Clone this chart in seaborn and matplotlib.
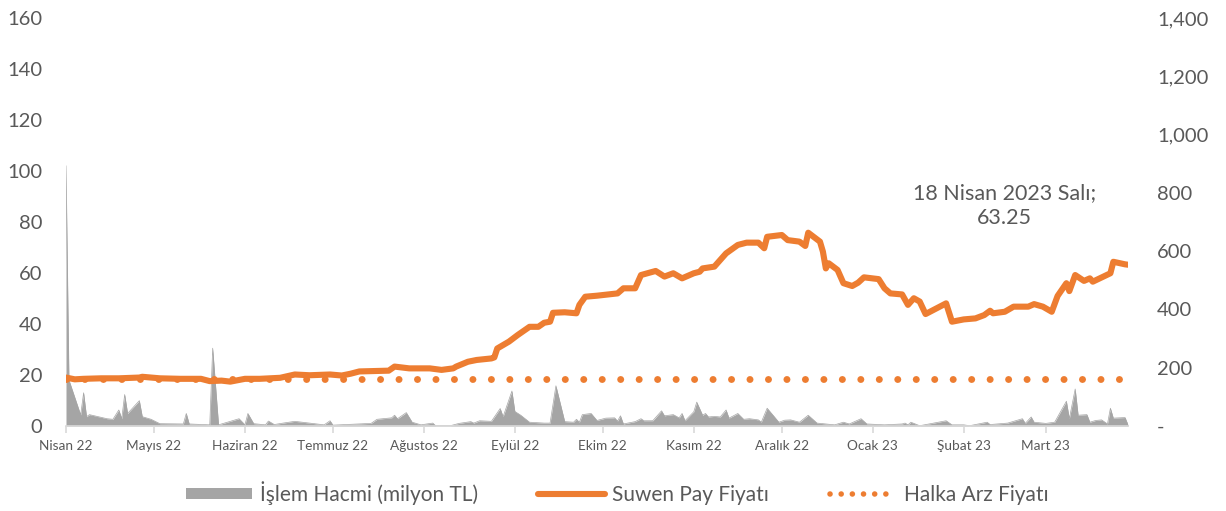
import pandas as pd
import numpy as np
import seaborn as sns
import matplotlib.pyplot as plt
import matplotlib.ticker as mticker
from matplotlib.lines import Line2D
from matplotlib.patches import Patch

# price (TL)
fiyat_tarih = ['2022-04-21', '2022-04-24', '2022-04-27', '2022-05-03', '2022-05-09', '2022-05-16', '2022-05-17',
               '2022-05-23', '2022-05-30', '2022-06-06', '2022-06-09', '2022-06-13', '2022-06-16', '2022-06-21',
               '2022-06-26', '2022-07-03', '2022-07-08', '2022-07-13', '2022-07-20', '2022-07-24', '2022-07-27',
               '2022-07-30', '2022-08-09', '2022-08-11', '2022-08-16', '2022-08-23', '2022-08-27', '2022-08-31',
               '2022-09-01', '2022-09-05', '2022-09-08', '2022-09-13', '2022-09-14', '2022-09-15', '2022-09-19',
               '2022-09-22', '2022-09-26', '2022-09-29', '2022-10-01', '2022-10-03', '2022-10-04', '2022-10-08',
               '2022-10-12', '2022-10-13', '2022-10-15', '2022-10-19', '2022-10-26', '2022-10-28', '2022-11-01',
               '2022-11-03', '2022-11-08', '2022-11-11', '2022-11-14', '2022-11-17', '2022-11-21', '2022-11-23',
               '2022-11-24', '2022-11-28', '2022-12-02', '2022-12-06', '2022-12-09', '2022-12-13', '2022-12-15',
               '2022-12-16', '2022-12-21', '2022-12-23', '2022-12-27', '2022-12-29', '2022-12-30', '2023-01-03',
               '2023-01-04', '2023-01-05', '2023-01-06', '2023-01-09', '2023-01-11', '2023-01-14', '2023-01-16',
               '2023-01-18', '2023-01-23', '2023-01-25', '2023-01-27', '2023-01-31', '2023-02-02', '2023-02-04',
               '2023-02-06', '2023-02-08', '2023-02-15', '2023-02-17', '2023-02-21', '2023-02-25', '2023-02-28',
               '2023-03-02', '2023-03-03', '2023-03-07', '2023-03-10', '2023-03-15', '2023-03-17', '2023-03-20',
               '2023-03-23', '2023-03-25', '2023-03-28', '2023-03-29', '2023-03-31', '2023-04-03', '2023-04-05',
               '2023-04-06', '2023-04-12', '2023-04-13', '2023-04-17', '2023-04-18']
fiyat = [19.0, 18.3, 18.5, 18.7, 18.7, 19.0, 19.3,
         18.7, 18.5, 18.5, 17.6, 17.8, 17.4, 18.5,
         18.5, 18.9, 20.2, 19.9, 20.2, 19.8, 20.5,
         21.4, 21.7, 23.3, 22.6, 22.6, 22.0, 22.6,
         23.3, 25.2, 25.9, 26.5, 26.9, 30.4, 33.1,
         35.7, 38.9, 38.9, 40.5, 40.9, 44.4, 44.6,
         44.2, 47.5, 50.7, 51.1, 52.0, 54.0, 54.0,
         59.2, 60.8, 58.6, 59.9, 57.9, 59.9, 60.5,
         61.8, 62.5, 67.7, 71.0, 71.9, 71.9, 69.7,
         74.2, 74.9, 72.9, 72.3, 70.6, 75.8, 72.3,
         68.4, 61.8, 63.8, 61.2, 56.0, 54.9, 56.2,
         58.3, 57.6, 54.0, 52.0, 51.6, 47.5, 50.1,
         48.8, 43.9, 48.1, 40.9, 41.8, 42.2, 43.5,
         45.2, 44.2, 44.8, 46.8, 46.8, 47.8, 46.8,
         44.8, 51.0, 56.0, 52.9, 59.2, 56.9, 57.9,
         56.6, 59.9, 64.4, 63.4, 63.25]

# trading volume (million TL), right axis
hacim_tarih = ['2022-04-21', '2022-04-22', '2022-04-26', '2022-04-27', '2022-04-28', '2022-04-29', '2022-05-05',
               '2022-05-07', '2022-05-09', '2022-05-10', '2022-05-11', '2022-05-12', '2022-05-16', '2022-05-17',
               '2022-05-20', '2022-05-23', '2022-05-31', '2022-06-01', '2022-06-02', '2022-06-09', '2022-06-10',
               '2022-06-12', '2022-06-19', '2022-06-21', '2022-06-22', '2022-06-24', '2022-06-28', '2022-06-29',
               '2022-07-01', '2022-07-04', '2022-07-08', '2022-07-18', '2022-07-20', '2022-07-21', '2022-08-03',
               '2022-08-05', '2022-08-10', '2022-08-11', '2022-08-12', '2022-08-15', '2022-08-17', '2022-08-20',
               '2022-08-24', '2022-08-25', '2022-08-30', '2022-09-02', '2022-09-06', '2022-09-07', '2022-09-09',
               '2022-09-13', '2022-09-16', '2022-09-17', '2022-09-20', '2022-09-21', '2022-09-23', '2022-09-26',
               '2022-10-01', '2022-10-03', '2022-10-05', '2022-10-08', '2022-10-11', '2022-10-12', '2022-10-13',
               '2022-10-14', '2022-10-17', '2022-10-19', '2022-10-22', '2022-10-25', '2022-10-26', '2022-10-27',
               '2022-10-28', '2022-11-01', '2022-11-03', '2022-11-04', '2022-11-07', '2022-11-10', '2022-11-11',
               '2022-11-14', '2022-11-16', '2022-11-17', '2022-11-18', '2022-11-20', '2022-11-21', '2022-11-22',
               '2022-11-24', '2022-11-25', '2022-11-26', '2022-11-28', '2022-11-30', '2022-12-02', '2022-12-03',
               '2022-12-06', '2022-12-08', '2022-12-10', '2022-12-13', '2022-12-14', '2022-12-16', '2022-12-20',
               '2022-12-22', '2022-12-24', '2022-12-27', '2022-12-30', '2023-01-02', '2023-01-08', '2023-01-11',
               '2023-01-13', '2023-01-17', '2023-01-19', '2023-01-25', '2023-01-31', '2023-02-01', '2023-02-02',
               '2023-02-03', '2023-02-06', '2023-02-15', '2023-02-17', '2023-02-21', '2023-02-23', '2023-03-01',
               '2023-03-02', '2023-03-08', '2023-03-13', '2023-03-14', '2023-03-16', '2023-03-17', '2023-03-21',
               '2023-03-24', '2023-03-28', '2023-03-29', '2023-03-31', '2023-04-01', '2023-04-04', '2023-04-05',
               '2023-04-07', '2023-04-09', '2023-04-11', '2023-04-12', '2023-04-13', '2023-04-17', '2023-04-18']
hacim = [893, 158, 38, 114, 32, 39, 25,
         23, 55, 25, 108, 43, 87, 32,
         23, 8, 7, 43, 7, 4, 267,
         4, 25, 4, 43, 8, 4, 17,
         5, 10, 16, 4, 18, 3, 9,
         23, 28, 37, 25, 46, 13, 4,
         10, 1, 1, 9, 15, 10, 18,
         16, 60, 32, 120, 50, 37, 13,
         10, 10, 138, 15, 13, 23, 13,
         39, 43, 19, 27, 28, 17, 35,
         7, 15, 25, 18, 18, 52, 35,
         39, 28, 43, 18, 39, 49, 82,
         37, 43, 31, 33, 31, 55, 27,
         43, 23, 25, 21, 13, 61, 13,
         20, 21, 13, 37, 10, 4, 13,
         7, 25, 7, 4, 7, 10, 4,
         13, 1, 18, 4, 4, 1, 13,
         5, 10, 25, 9, 31, 13, 9,
         13, 85, 25, 127, 37, 39, 13,
         19, 21, 7, 61, 27, 29, 4]

halka_arz = 18.5

ay_tick = ['2022-04-21', '2022-05-21', '2022-06-21', '2022-07-21', '2022-08-21', '2022-09-21',
           '2022-10-21', '2022-11-21', '2022-12-21', '2023-01-21', '2023-02-21', '2023-03-21']
ay_etiket = ['Nisan 22', 'Mayıs 22', 'Haziran 22', 'Temmuz 22', 'Ağustos 22', 'Eylül 22',
             'Ekim 22', 'Kasım 22', 'Aralık 22', 'Ocak 23', 'Şubat 23', 'Mart 23']

turuncu = '#ED7D31'
gri = '#A5A5A5'
yazi = '#595959'

sns.set_theme(style='white')
plt.rcParams['font.family'] = ['Lato', 'DejaVu Sans']

df_f = pd.DataFrame({'tarih': pd.to_datetime(fiyat_tarih), 'fiyat': fiyat})
df_h = pd.DataFrame({'tarih': pd.to_datetime(hacim_tarih), 'hacim': hacim})
df_a = pd.DataFrame({'tarih': pd.to_datetime([fiyat_tarih[0], fiyat_tarih[-1]]),
                     'fiyat': [halka_arz, halka_arz]})

fig = plt.figure(figsize=(12.26, 5.11), dpi=100)
ax = fig.add_axes([66/1226, 85/511, 1062/1226, 408/511])
ax2 = ax.twinx()
# volume behind the price lines
ax2.set_zorder(ax.get_zorder() - 1)
ax.patch.set_visible(False)

ax2.fill_between(df_h['tarih'], 0, df_h['hacim'], color=gri, linewidth=0)
sns.lineplot(data=df_h, x='tarih', y='hacim', ax=ax2, color=gri, linewidth=0.5)

sns.lineplot(data=df_a, x='tarih', y='fiyat', ax=ax, color=turuncu, linewidth=5,
             linestyle=(0, (0.01, 2.65)), dash_capstyle='round')
sns.lineplot(data=df_f, x='tarih', y='fiyat', ax=ax, color=turuncu, linewidth=4.4,
             solid_joinstyle='round', solid_capstyle='round')

x0 = pd.Timestamp(fiyat_tarih[0])
x1 = pd.Timestamp(fiyat_tarih[-1])
ax.set_xlim(x0, x1)
ax.set_ylim(0, 160)
ax.set_yticks(range(0, 161, 20))
ax2.set_ylim(0, 1400)
ax2.set_yticks(range(0, 1401, 200))
ax2.yaxis.set_major_formatter(mticker.FuncFormatter(lambda v, p: '-' if v == 0 else '{:,.0f}'.format(v)))

ax.set_xticks(pd.to_datetime(ay_tick))
ax.set_xticklabels(ay_etiket)
ax.set_xlabel('')
ax.set_ylabel('')
ax2.set_xlabel('')
ax2.set_ylabel('')

for a in (ax, ax2):
    for s in a.spines.values():
        s.set_visible(False)
ax.spines['bottom'].set_visible(True)
ax.spines['bottom'].set_color('#D9D9D9')
ax.spines['bottom'].set_linewidth(1.2)

ax.tick_params(axis='x', colors='#D9D9D9', labelcolor=yazi, labelsize=9.8, length=5, width=1.2,
               direction='out', pad=5, bottom=True)
ax.tick_params(axis='y', labelcolor=yazi, labelsize=14.5, length=0, pad=17)
ax2.tick_params(axis='y', labelcolor=yazi, labelsize=14.5, length=0, pad=21)
ax.grid(False)
ax2.grid(False)

ax.text(pd.Timestamp('2023-03-07'), 86.5, '18 Nisan 2023 Salı;\n63.25', ha='center', va='center',
        fontsize=15.5, color=yazi, linespacing=1.35)

handles = [Patch(facecolor=gri, edgecolor='none'),
           Line2D([0], [0], color=turuncu, linewidth=4.4),
           Line2D([0], [0], color=turuncu, linewidth=4, linestyle=(0, (0.01, 2.0)), dash_capstyle='round')]
labels = ['İşlem Hacmi (milyon TL)', 'Suwen Pay Fiyatı', 'Halka Arz Fiyatı']
fig.legend(handles, labels, loc='center', bbox_to_anchor=(617/1226, 1 - 493/511), ncol=3, frameon=False,
           fontsize=15, labelcolor=yazi, handlelength=3.2, handleheight=0.5, handletextpad=0.35,
           columnspacing=2.9)

fig.savefig('out.png', dpi=100, facecolor='white')
